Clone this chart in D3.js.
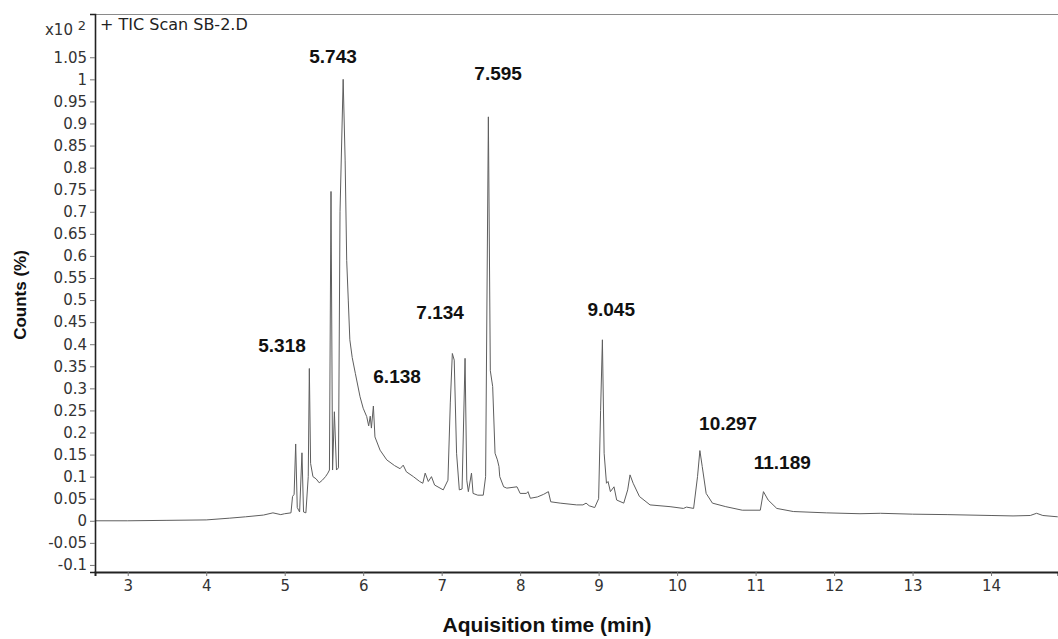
<!DOCTYPE html>
<html>
<head>
<meta charset="utf-8">
<script src="https://cdn.jsdelivr.net/npm/d3@7/dist/d3.min.js"></script>
<style>
  html, body { margin: 0; padding: 0; background: #fff; }
  svg { display: block; }
</style>
</head>
<body>
<svg id="chart" width="1058" height="639"></svg>
<script>
// retention time (min) and counts (x10^2 %)
const times = [
  2.58, 3.00, 3.50, 4.00, 4.30, 4.50, 4.73, 4.85, 4.95, 5.00, 5.08, 5.10, 5.12, 5.14, 5.16, 5.19,
  5.22, 5.24, 5.27, 5.30, 5.314, 5.33, 5.36, 5.40, 5.44, 5.48, 5.52, 5.55, 5.57, 5.59, 5.61, 5.633,
  5.66, 5.685, 5.705, 5.745, 5.77, 5.79, 5.81, 5.83, 5.86, 5.90, 5.96, 6.00, 6.045, 6.07, 6.09, 6.105,
  6.13, 6.15, 6.215, 6.30, 6.40, 6.47, 6.51, 6.55, 6.64, 6.72, 6.76, 6.79, 6.83, 6.87, 6.91, 7.02,
  7.08, 7.11, 7.136, 7.16, 7.19, 7.225, 7.26, 7.298, 7.32, 7.34, 7.38, 7.40, 7.46, 7.53, 7.56, 7.595,
  7.62, 7.65, 7.68, 7.71, 7.73, 7.74, 7.79, 7.83, 7.96, 8.00, 8.08, 8.10, 8.13, 8.22, 8.30, 8.36,
  8.39, 8.51, 8.72, 8.80, 8.84, 8.88, 8.95, 9.00, 9.025, 9.048, 9.07, 9.10, 9.12, 9.15, 9.196, 9.23,
  9.32, 9.37, 9.40, 9.44, 9.52, 9.655, 9.91, 10.08, 10.12, 10.21, 10.26, 10.29, 10.32, 10.37, 10.45, 10.62,
  10.83, 11.06, 11.10, 11.16, 11.27, 11.48, 11.90, 12.33, 12.59, 13.00, 13.44, 14.00, 14.28, 14.50, 14.58, 14.66,
  14.85
];
const counts = [
  0.000, 0.000, 0.001, 0.002, 0.006, 0.009, 0.013, 0.018, 0.014, 0.016, 0.018, 0.055, 0.060, 0.174, 0.030, 0.020,
  0.154, 0.020, 0.018, 0.100, 0.345, 0.130, 0.100, 0.095, 0.086, 0.092, 0.100, 0.108, 0.115, 0.746, 0.115, 0.247,
  0.115, 0.120, 0.700, 1.000, 0.817, 0.590, 0.500, 0.410, 0.370, 0.334, 0.281, 0.255, 0.236, 0.215, 0.237, 0.210,
  0.260, 0.190, 0.160, 0.138, 0.125, 0.118, 0.126, 0.111, 0.100, 0.089, 0.085, 0.108, 0.089, 0.100, 0.081, 0.070,
  0.092, 0.267, 0.379, 0.364, 0.153, 0.070, 0.072, 0.368, 0.092, 0.066, 0.108, 0.062, 0.058, 0.058, 0.100, 0.915,
  0.340, 0.304, 0.153, 0.138, 0.123, 0.100, 0.077, 0.074, 0.077, 0.062, 0.062, 0.066, 0.051, 0.054, 0.060, 0.066,
  0.043, 0.040, 0.036, 0.036, 0.040, 0.034, 0.030, 0.050, 0.250, 0.410, 0.153, 0.085, 0.089, 0.066, 0.077, 0.047,
  0.040, 0.070, 0.104, 0.085, 0.055, 0.036, 0.032, 0.028, 0.031, 0.028, 0.100, 0.159, 0.123, 0.062, 0.040, 0.032,
  0.024, 0.024, 0.066, 0.047, 0.028, 0.021, 0.018, 0.016, 0.017, 0.015, 0.014, 0.012, 0.011, 0.012, 0.017, 0.012,
  0.009
];

const xTicks = [3, 4, 5, 6, 7, 8, 9, 10, 11, 12, 13, 14];
const yTicks = d3.range(-2, 22).map(i => +(i * 0.05).toFixed(2));

// peak labels: text, anchor time, anchor count (baseline)
const peakNames = ['5.318', '5.743', '6.138', '7.134', '7.595', '9.045', '10.297', '11.189'];
const peakLabelT = [4.966, 5.616, 6.432, 6.98, 7.719, 9.16, 10.65, 11.34];
const peakLabelV = [0.382, 1.037, 0.312, 0.457, 0.999, 0.464, 0.206, 0.117];

const plot = { left: 95, top: 14, right: 1058, bottom: 572 };

const svg = d3.select('#chart');

const x = d3.scaleLinear().domain([2.583, 14.853]).range([plot.left, plot.right]);
const y = d3.scaleLinear().domain([-0.116, 1.148]).range([plot.bottom, plot.top]);

const tickFont = "'DejaVu Sans', sans-serif";
const boldFont = "'Liberation Sans', Arial, sans-serif";

// frame top line
svg.append('line')
  .attr('x1', plot.left).attr('x2', plot.right)
  .attr('y1', plot.top + 0.5).attr('y2', plot.top + 0.5)
  .attr('stroke', '#8a8a8a').attr('stroke-width', 1);

// chromatogram trace
const pts = times.map((t, i) => [t, counts[i]]);
svg.append('path')
  .datum(pts)
  .attr('fill', 'none')
  .attr('stroke', '#5e5e5e')
  .attr('stroke-width', 1)
  .attr('stroke-linejoin', 'round')
  .attr('d', d3.line().x(d => x(d[0])).y(d => y(d[1])));

// y axis
const yAxis = svg.append('g')
  .attr('transform', `translate(${plot.left},0)`)
  .call(d3.axisLeft(y).tickValues(yTicks).tickSize(5).tickPadding(3).tickFormat(d => String(+d.toFixed(2))));
yAxis.select('.domain').attr('stroke', '#222').attr('stroke-width', 1.6);
yAxis.selectAll('.tick line').attr('stroke', '#777');
yAxis.selectAll('.tick text')
  .attr('fill', '#333').attr('font-size', 15).attr('font-family', tickFont);

// x axis
const xAxis = svg.append('g')
  .attr('transform', `translate(0,${plot.bottom})`)
  .call(d3.axisBottom(x).tickValues(xTicks).tickSize(4).tickPadding(4).tickFormat(d3.format('d')));
xAxis.select('.domain').attr('stroke', '#222').attr('stroke-width', 2);
xAxis.selectAll('.tick line').attr('stroke', '#777');
xAxis.selectAll('.tick text')
  .attr('fill', '#333').attr('font-size', 15).attr('font-family', tickFont);

// exponent marker
const expo = svg.append('text')
  .attr('x', plot.left - 9).attr('y', 35)
  .attr('text-anchor', 'end')
  .attr('font-family', tickFont).attr('font-size', 15).attr('fill', '#333');
expo.append('tspan').text('x10 ');
expo.append('tspan').attr('dy', -5).attr('font-size', 13).text('2');

// trace title
svg.append('text')
  .attr('x', plot.left + 5).attr('y', 30)
  .attr('font-family', tickFont).attr('font-size', 16).attr('fill', '#222')
  .text('+ TIC Scan SB-2.D');

// peak labels
svg.append('g').selectAll('text').data(peakNames).join('text')
  .attr('x', (d, i) => x(peakLabelT[i]))
  .attr('y', (d, i) => y(peakLabelV[i]))
  .attr('text-anchor', 'middle')
  .attr('font-family', boldFont).attr('font-weight', 'bold').attr('font-size', 19)
  .attr('fill', '#111')
  .text(d => d);

// axis titles
svg.append('text')
  .attr('transform', `translate(26,${(plot.top + plot.bottom) / 2 + 2}) rotate(-90)`)
  .attr('text-anchor', 'middle')
  .attr('font-family', boldFont).attr('font-weight', 'bold').attr('font-size', 17)
  .attr('fill', '#111')
  .text('Counts (%)');

svg.append('text')
  .attr('x', 547).attr('y', 632)
  .attr('text-anchor', 'middle')
  .attr('font-family', boldFont).attr('font-weight', 'bold').attr('font-size', 21)
  .attr('fill', '#111')
  .text('Aquisition time (min)');
</script>
</body>
</html>
